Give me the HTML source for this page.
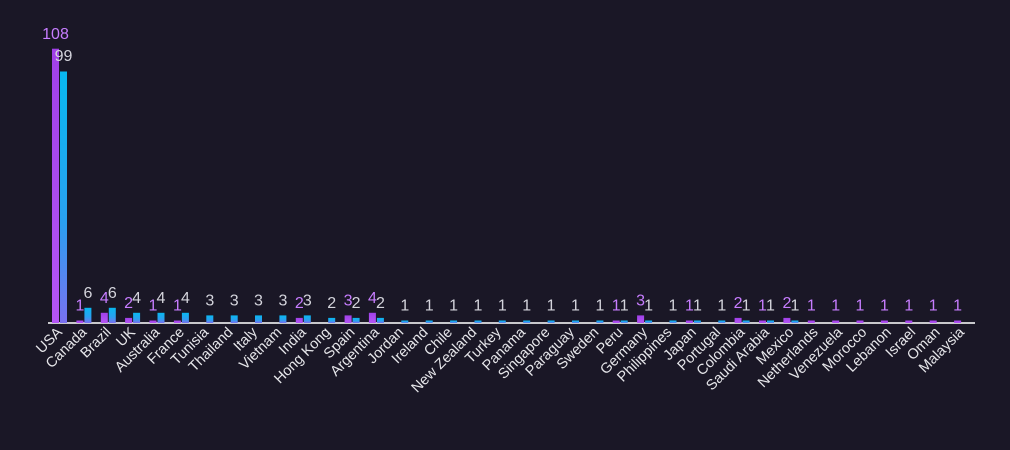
<!DOCTYPE html>
<html><head><meta charset="utf-8"><style>
html,body{margin:0;padding:0;background:#1a1726;}
svg{display:block;font-family:"Liberation Sans",sans-serif;}
.p{fill:#c77dff;font-size:16px;text-anchor:middle}
.b{fill:#d4d4dc;font-size:16px;text-anchor:middle}
.c{fill:#e6e6ea;font-size:14.5px;text-anchor:end}
</style></head><body>
<svg width="1010" height="450" viewBox="0 0 1010 450">
<defs>
<linearGradient id="gp" x1="0" y1="0" x2="0" y2="1"><stop offset="0" stop-color="#a040e8"/><stop offset="1" stop-color="#b455f5"/></linearGradient>
<linearGradient id="gb" x1="0" y1="0" x2="0" y2="1"><stop offset="0" stop-color="#08b8f0"/><stop offset="0.6" stop-color="#2aa0f0"/><stop offset="1" stop-color="#7a70f0"/></linearGradient>
</defs>
<rect width="1010" height="450" fill="#1a1726"/>
<line x1="48" y1="323" x2="975" y2="323" stroke="#c8c8cc" stroke-width="2"/>

<g transform="translate(60,323)"><rect x="-8" y="-274.3" width="7" height="274.3" fill="url(#gp)"/><rect x="0" y="-251.5" width="7" height="251.5" fill="url(#gb)"/><text class="p" x="-4.5" y="-284">108</text><text class="b" x="3.5" y="-262">99</text><text class="c" transform="translate(3,10) rotate(-45)">USA</text></g>
<g transform="translate(84.4,323)"><rect x="-8" y="-2.5" width="7" height="2.5" fill="url(#gp)"/><rect x="0" y="-15.2" width="7" height="15.2" fill="url(#gb)"/><text class="p" x="-4.5" y="-12.5">1</text><text class="b" x="3.5" y="-25">6</text><text class="c" transform="translate(3,10) rotate(-45)">Canada</text></g>
<g transform="translate(108.8,323)"><rect x="-8" y="-10.2" width="7" height="10.2" fill="url(#gp)"/><rect x="0" y="-15.2" width="7" height="15.2" fill="url(#gb)"/><text class="p" x="-4.5" y="-20">4</text><text class="b" x="3.5" y="-25">6</text><text class="c" transform="translate(3,10) rotate(-45)">Brazil</text></g>
<g transform="translate(133.1,323)"><rect x="-8" y="-5.1" width="7" height="5.1" fill="url(#gp)"/><rect x="0" y="-10.2" width="7" height="10.2" fill="url(#gb)"/><text class="p" x="-4.5" y="-15">2</text><text class="b" x="3.5" y="-20">4</text><text class="c" transform="translate(3,10) rotate(-45)">UK</text></g>
<g transform="translate(157.5,323)"><rect x="-8" y="-2.5" width="7" height="2.5" fill="url(#gp)"/><rect x="0" y="-10.2" width="7" height="10.2" fill="url(#gb)"/><text class="p" x="-4.5" y="-12.5">1</text><text class="b" x="3.5" y="-20">4</text><text class="c" transform="translate(3,10) rotate(-45)">Australia</text></g>
<g transform="translate(181.9,323)"><rect x="-8" y="-2.5" width="7" height="2.5" fill="url(#gp)"/><rect x="0" y="-10.2" width="7" height="10.2" fill="url(#gb)"/><text class="p" x="-4.5" y="-12.5">1</text><text class="b" x="3.5" y="-20">4</text><text class="c" transform="translate(3,10) rotate(-45)">France</text></g>
<g transform="translate(206.3,323)"><rect x="0" y="-7.6" width="7" height="7.6" fill="url(#gb)"/><text class="b" x="3.5" y="-17.5">3</text><text class="c" transform="translate(3,10) rotate(-45)">Tunisia</text></g>
<g transform="translate(230.7,323)"><rect x="0" y="-7.6" width="7" height="7.6" fill="url(#gb)"/><text class="b" x="3.5" y="-17.5">3</text><text class="c" transform="translate(3,10) rotate(-45)">Thailand</text></g>
<g transform="translate(255,323)"><rect x="0" y="-7.6" width="7" height="7.6" fill="url(#gb)"/><text class="b" x="3.5" y="-17.5">3</text><text class="c" transform="translate(3,10) rotate(-45)">Italy</text></g>
<g transform="translate(279.4,323)"><rect x="0" y="-7.6" width="7" height="7.6" fill="url(#gb)"/><text class="b" x="3.5" y="-17.5">3</text><text class="c" transform="translate(3,10) rotate(-45)">Vietnam</text></g>
<g transform="translate(303.8,323)"><rect x="-8" y="-5.1" width="7" height="5.1" fill="url(#gp)"/><rect x="0" y="-7.6" width="7" height="7.6" fill="url(#gb)"/><text class="p" x="-4.5" y="-15">2</text><text class="b" x="3.5" y="-17.5">3</text><text class="c" transform="translate(3,10) rotate(-45)">India</text></g>
<g transform="translate(328.2,323)"><rect x="0" y="-5.1" width="7" height="5.1" fill="url(#gb)"/><text class="b" x="3.5" y="-15">2</text><text class="c" transform="translate(3,10) rotate(-45)">Hong Kong</text></g>
<g transform="translate(352.6,323)"><rect x="-8" y="-7.6" width="7" height="7.6" fill="url(#gp)"/><rect x="0" y="-5.1" width="7" height="5.1" fill="url(#gb)"/><text class="p" x="-4.5" y="-17.5">3</text><text class="b" x="3.5" y="-15">2</text><text class="c" transform="translate(3,10) rotate(-45)">Spain</text></g>
<g transform="translate(376.9,323)"><rect x="-8" y="-10.2" width="7" height="10.2" fill="url(#gp)"/><rect x="0" y="-5.1" width="7" height="5.1" fill="url(#gb)"/><text class="p" x="-4.5" y="-20">4</text><text class="b" x="3.5" y="-15">2</text><text class="c" transform="translate(3,10) rotate(-45)">Argentina</text></g>
<g transform="translate(401.3,323)"><rect x="0" y="-2.5" width="7" height="2.5" fill="url(#gb)"/><text class="b" x="3.5" y="-12.5">1</text><text class="c" transform="translate(3,10) rotate(-45)">Jordan</text></g>
<g transform="translate(425.7,323)"><rect x="0" y="-2.5" width="7" height="2.5" fill="url(#gb)"/><text class="b" x="3.5" y="-12.5">1</text><text class="c" transform="translate(3,10) rotate(-45)">Ireland</text></g>
<g transform="translate(450.1,323)"><rect x="0" y="-2.5" width="7" height="2.5" fill="url(#gb)"/><text class="b" x="3.5" y="-12.5">1</text><text class="c" transform="translate(3,10) rotate(-45)">Chile</text></g>
<g transform="translate(474.5,323)"><rect x="0" y="-2.5" width="7" height="2.5" fill="url(#gb)"/><text class="b" x="3.5" y="-12.5">1</text><text class="c" transform="translate(3,10) rotate(-45)">New Zealand</text></g>
<g transform="translate(498.8,323)"><rect x="0" y="-2.5" width="7" height="2.5" fill="url(#gb)"/><text class="b" x="3.5" y="-12.5">1</text><text class="c" transform="translate(3,10) rotate(-45)">Turkey</text></g>
<g transform="translate(523.2,323)"><rect x="0" y="-2.5" width="7" height="2.5" fill="url(#gb)"/><text class="b" x="3.5" y="-12.5">1</text><text class="c" transform="translate(3,10) rotate(-45)">Panama</text></g>
<g transform="translate(547.6,323)"><rect x="0" y="-2.5" width="7" height="2.5" fill="url(#gb)"/><text class="b" x="3.5" y="-12.5">1</text><text class="c" transform="translate(3,10) rotate(-45)">Singapore</text></g>
<g transform="translate(572,323)"><rect x="0" y="-2.5" width="7" height="2.5" fill="url(#gb)"/><text class="b" x="3.5" y="-12.5">1</text><text class="c" transform="translate(3,10) rotate(-45)">Paraguay</text></g>
<g transform="translate(596.4,323)"><rect x="0" y="-2.5" width="7" height="2.5" fill="url(#gb)"/><text class="b" x="3.5" y="-12.5">1</text><text class="c" transform="translate(3,10) rotate(-45)">Sweden</text></g>
<g transform="translate(620.7,323)"><rect x="-8" y="-2.5" width="7" height="2.5" fill="url(#gp)"/><rect x="0" y="-2.5" width="7" height="2.5" fill="url(#gb)"/><text class="p" x="-4.5" y="-12.5">1</text><text class="b" x="3.5" y="-12.5">1</text><text class="c" transform="translate(3,10) rotate(-45)">Peru</text></g>
<g transform="translate(645.1,323)"><rect x="-8" y="-7.6" width="7" height="7.6" fill="url(#gp)"/><rect x="0" y="-2.5" width="7" height="2.5" fill="url(#gb)"/><text class="p" x="-4.5" y="-17.5">3</text><text class="b" x="3.5" y="-12.5">1</text><text class="c" transform="translate(3,10) rotate(-45)">Germany</text></g>
<g transform="translate(669.5,323)"><rect x="0" y="-2.5" width="7" height="2.5" fill="url(#gb)"/><text class="b" x="3.5" y="-12.5">1</text><text class="c" transform="translate(3,10) rotate(-45)">Philippines</text></g>
<g transform="translate(693.9,323)"><rect x="-8" y="-2.5" width="7" height="2.5" fill="url(#gp)"/><rect x="0" y="-2.5" width="7" height="2.5" fill="url(#gb)"/><text class="p" x="-4.5" y="-12.5">1</text><text class="b" x="3.5" y="-12.5">1</text><text class="c" transform="translate(3,10) rotate(-45)">Japan</text></g>
<g transform="translate(718.3,323)"><rect x="0" y="-2.5" width="7" height="2.5" fill="url(#gb)"/><text class="b" x="3.5" y="-12.5">1</text><text class="c" transform="translate(3,10) rotate(-45)">Portugal</text></g>
<g transform="translate(742.6,323)"><rect x="-8" y="-5.1" width="7" height="5.1" fill="url(#gp)"/><rect x="0" y="-2.5" width="7" height="2.5" fill="url(#gb)"/><text class="p" x="-4.5" y="-15">2</text><text class="b" x="3.5" y="-12.5">1</text><text class="c" transform="translate(3,10) rotate(-45)">Colombia</text></g>
<g transform="translate(767,323)"><rect x="-8" y="-2.5" width="7" height="2.5" fill="url(#gp)"/><rect x="0" y="-2.5" width="7" height="2.5" fill="url(#gb)"/><text class="p" x="-4.5" y="-12.5">1</text><text class="b" x="3.5" y="-12.5">1</text><text class="c" transform="translate(3,10) rotate(-45)">Saudi Arabia</text></g>
<g transform="translate(791.4,323)"><rect x="-8" y="-5.1" width="7" height="5.1" fill="url(#gp)"/><rect x="0" y="-2.5" width="7" height="2.5" fill="url(#gb)"/><text class="p" x="-4.5" y="-15">2</text><text class="b" x="3.5" y="-12.5">1</text><text class="c" transform="translate(3,10) rotate(-45)">Mexico</text></g>
<g transform="translate(815.8,323)"><rect x="-8" y="-2.5" width="7" height="2.5" fill="url(#gp)"/><text class="p" x="-4.5" y="-12.5">1</text><text class="c" transform="translate(3,10) rotate(-45)">Netherlands</text></g>
<g transform="translate(840.2,323)"><rect x="-8" y="-2.5" width="7" height="2.5" fill="url(#gp)"/><text class="p" x="-4.5" y="-12.5">1</text><text class="c" transform="translate(3,10) rotate(-45)">Venezuela</text></g>
<g transform="translate(864.5,323)"><rect x="-8" y="-2.5" width="7" height="2.5" fill="url(#gp)"/><text class="p" x="-4.5" y="-12.5">1</text><text class="c" transform="translate(3,10) rotate(-45)">Morocco</text></g>
<g transform="translate(888.9,323)"><rect x="-8" y="-2.5" width="7" height="2.5" fill="url(#gp)"/><text class="p" x="-4.5" y="-12.5">1</text><text class="c" transform="translate(3,10) rotate(-45)">Lebanon</text></g>
<g transform="translate(913.3,323)"><rect x="-8" y="-2.5" width="7" height="2.5" fill="url(#gp)"/><text class="p" x="-4.5" y="-12.5">1</text><text class="c" transform="translate(3,10) rotate(-45)">Israel</text></g>
<g transform="translate(937.7,323)"><rect x="-8" y="-2.5" width="7" height="2.5" fill="url(#gp)"/><text class="p" x="-4.5" y="-12.5">1</text><text class="c" transform="translate(3,10) rotate(-45)">Oman</text></g>
<g transform="translate(962.1,323)"><rect x="-8" y="-2.5" width="7" height="2.5" fill="url(#gp)"/><text class="p" x="-4.5" y="-12.5">1</text><text class="c" transform="translate(3,10) rotate(-45)">Malaysia</text></g>
</svg>
</body></html>
